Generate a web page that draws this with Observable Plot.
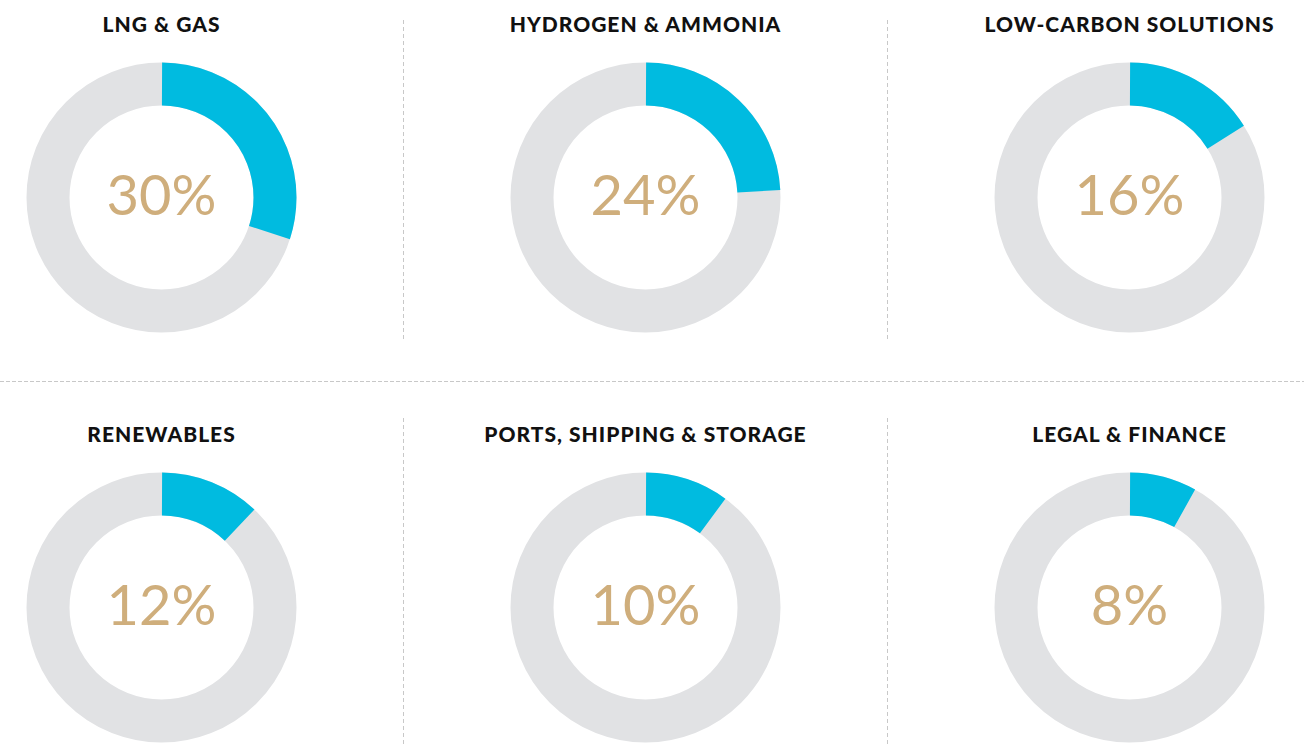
<!DOCTYPE html>
<html>
<head>
<meta charset="utf-8">
<script src="https://cdn.jsdelivr.net/npm/d3@7"></script>
<script src="https://cdn.jsdelivr.net/npm/@observablehq/plot@0.6"></script>
<style>
  html, body { margin: 0; padding: 0; background: #fff; }
  #chart svg { display: block; }
  #chart svg g[font-size="21"] { letter-spacing: 1px; }
</style>
</head>
<body>
<div id="chart"></div>
<script>
// ---- data ----
const categories = ["LNG & GAS", "HYDROGEN & AMMONIA", "LOW-CARBON SOLUTIONS", "RENEWABLES", "PORTS, SHIPPING & STORAGE", "LEGAL & FINANCE"];
const shares = [30, 24, 16, 12, 10, 8];
const labels = ["30%", "24%", "16%", "12%", "10%", "8%"];

// ---- layout ----
const W = 1304, H = 747;
const colCenters = [161, 1129]; // pixel range for columns 0..2
const rowCenters = [197, 607];  // pixel range for rows 0..1
const ringR = 113.5, ringW = 43;
const C = 2 * Math.PI * ringR;
const px2x = p => (p - colCenters[0]) / ((colCenters[1] - colCenters[0]) / 2);
const px2y = p => (p - rowCenters[0]) / (rowCenters[1] - rowCenters[0]);

const table = categories.map((name, i) => ({
  name, share: shares[i], label: labels[i], col: i % 3, row: Math.floor(i / 3)
}));

const font = "Lato, 'Open Sans', sans-serif";
const cyan = "#00bbe0", gray = "#e1e2e4", tan = "#cfae7c", divider = "#c8c8c8";

const marks = [
  // dividers
  Plot.ruleY([px2y(381)], {stroke: divider, strokeWidth: 1, strokeDasharray: "4 2"}),
  Plot.ruleX([0.5, 1.5], {y1: px2y(20), y2: px2y(340), stroke: divider, strokeWidth: 1, strokeDasharray: "4 3"}),
  Plot.ruleX([0.5, 1.5], {y1: px2y(418), y2: px2y(747), stroke: divider, strokeWidth: 1, strokeDasharray: "4 3"}),
  // background rings
  Plot.dot(table, {x: "col", y: "row", r: ringR, stroke: gray, strokeWidth: ringW, fill: "none"})
];
// value arcs
for (const d of table) {
  const L = d.share / 100 * C;
  marks.push(Plot.dot([d], {
    x: "col", y: "row", r: ringR, stroke: cyan, strokeWidth: ringW, fill: "none",
    strokeDasharray: `${L} ${C - L}`, strokeDashoffset: C / 4
  }));
}
marks.push(
  Plot.text(table, {x: "col", y: "row", text: "label", fill: tan, fontSize: 56, fontWeight: 400, fontFamily: font, textAnchor: "middle", dy: 0}),
  Plot.text(table, {x: "col", y: "row", text: "name", fill: "#111", fontSize: 21, fontWeight: 900, fontFamily: font, textAnchor: "middle", dy: -172})
);

const chart = Plot.plot({
  width: W, height: H,
  margin: 0,
  x: {type: "linear", domain: [0, 2], range: [colCenters[0], colCenters[1]], axis: null},
  y: {type: "linear", domain: [0, 1], range: [rowCenters[0], rowCenters[1]], axis: null},
  style: {background: "#fff", fontFamily: font},
  marks
});
document.getElementById("chart").appendChild(chart);
</script>
</body>
</html>
